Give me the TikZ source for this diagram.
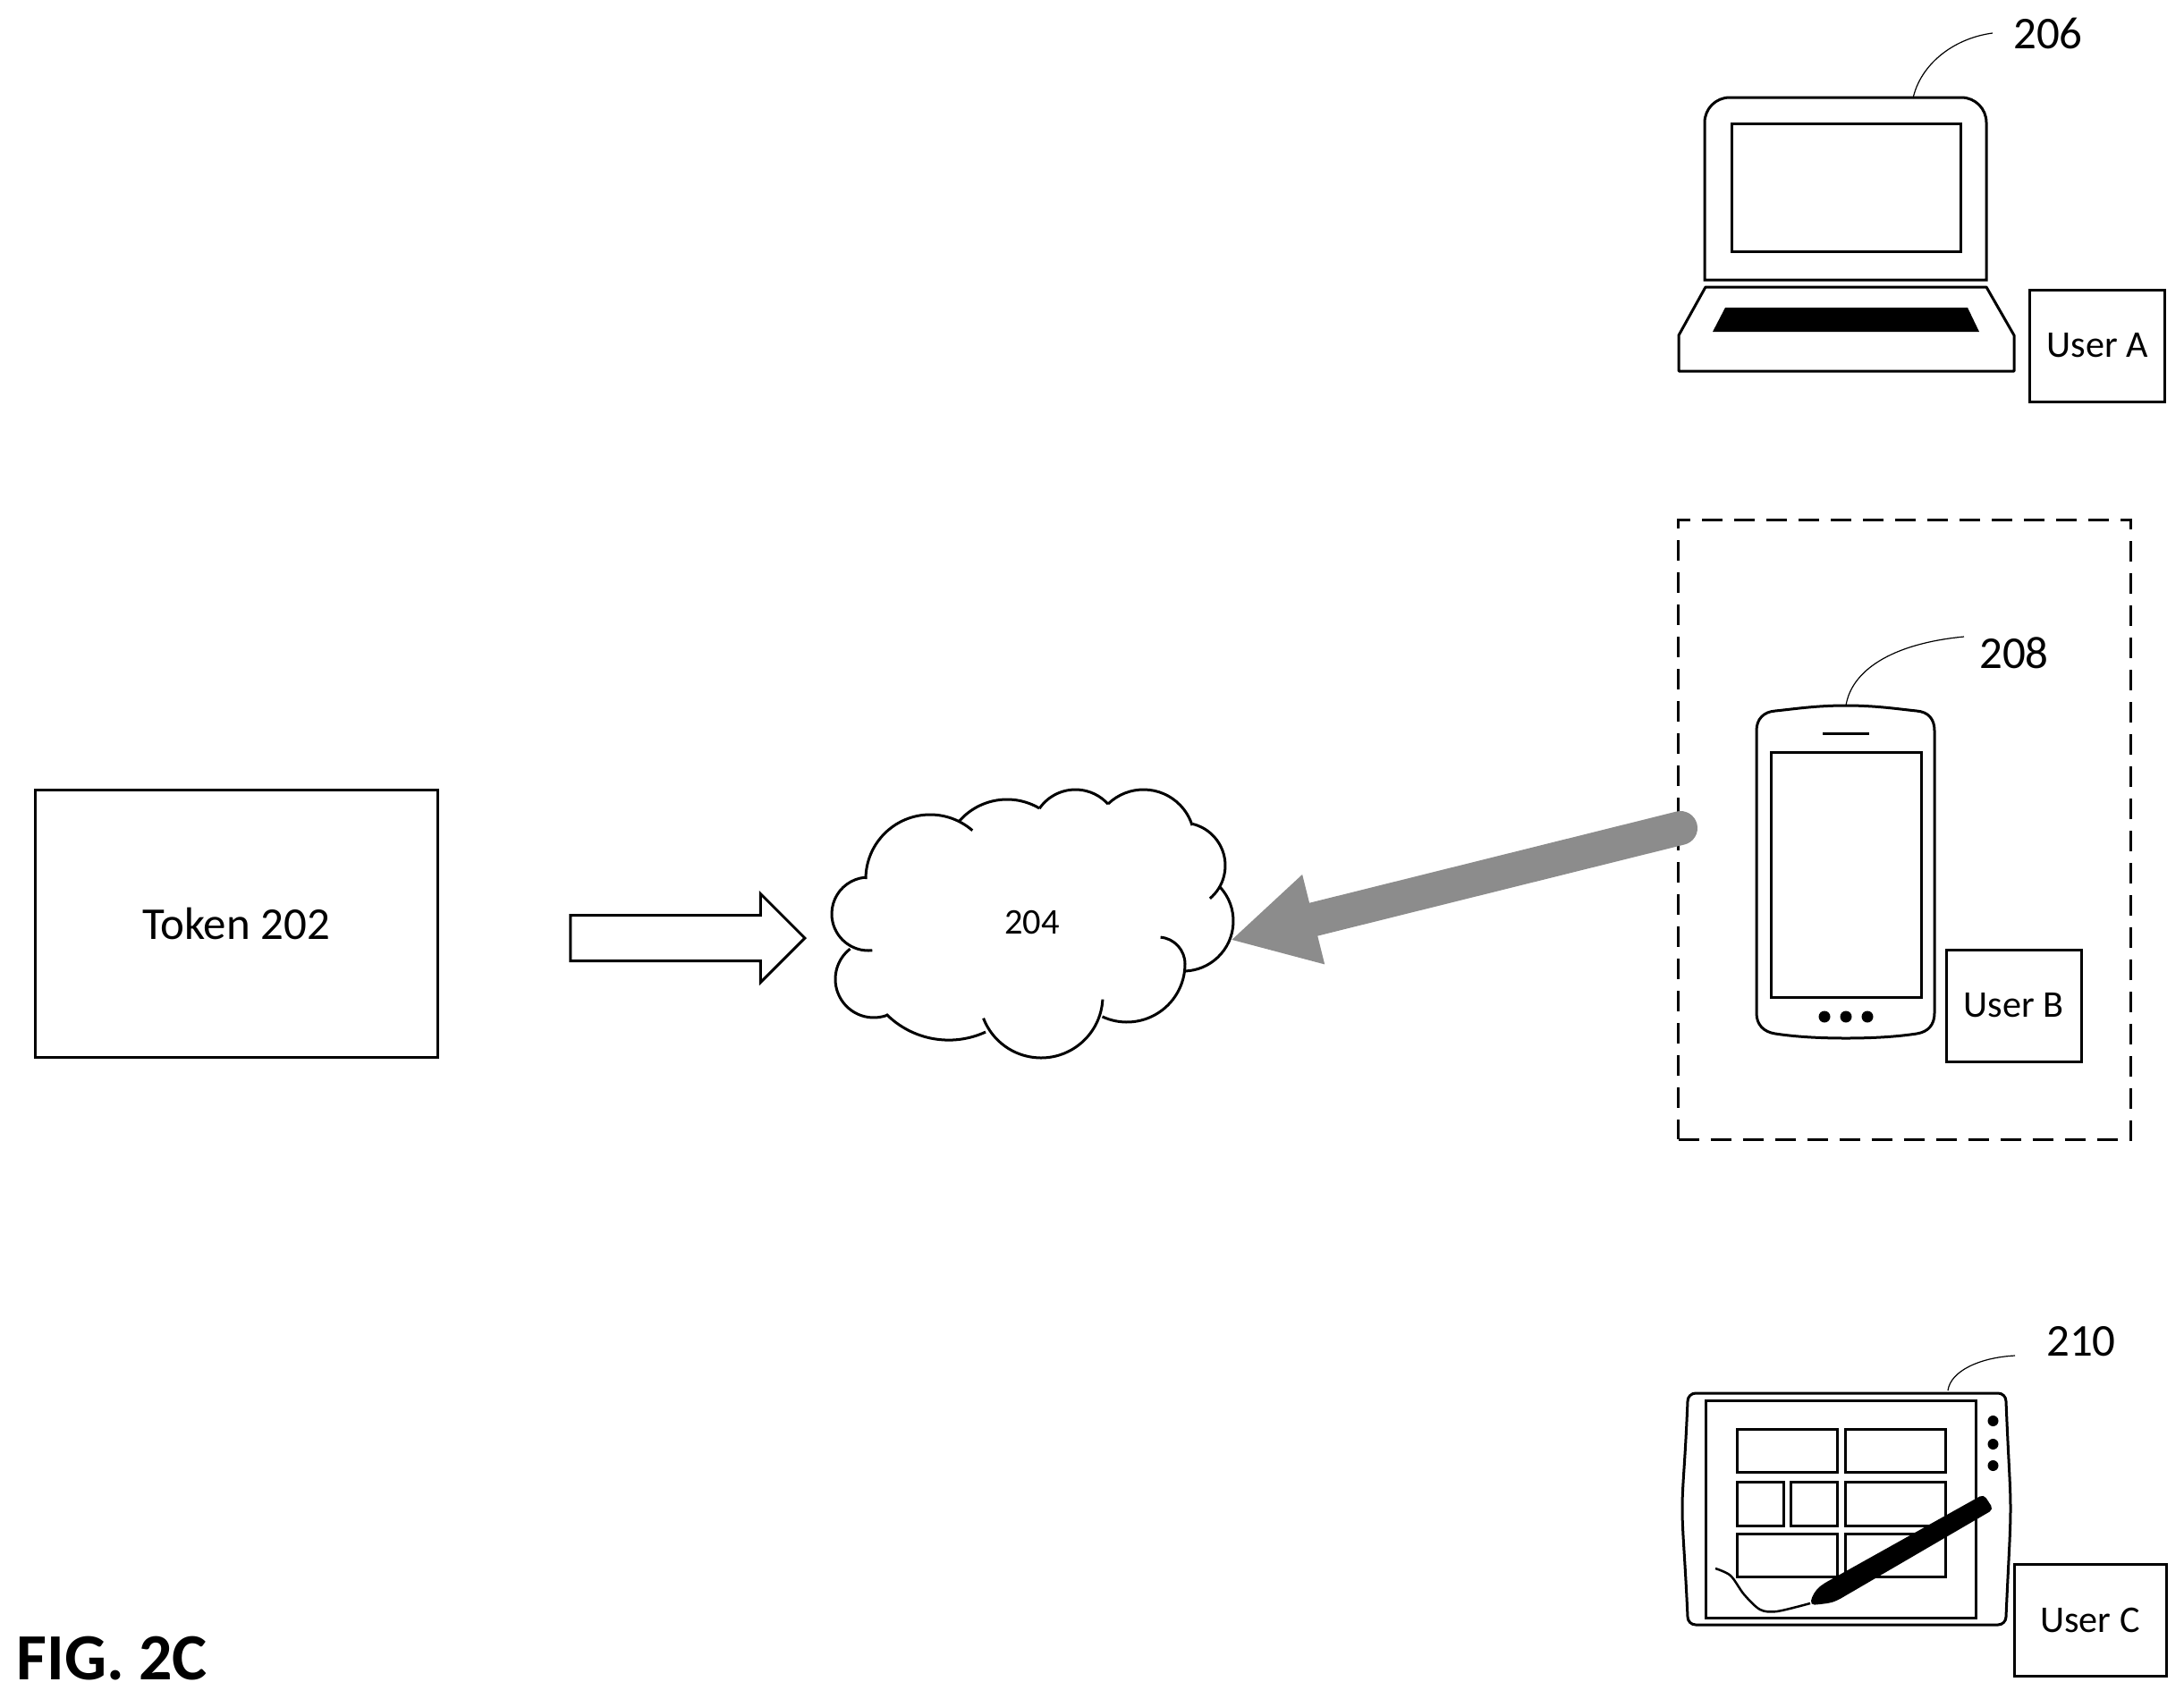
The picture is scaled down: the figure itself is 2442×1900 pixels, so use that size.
\documentclass[tikz,border=0pt]{standalone}
\usepackage{fontspec}
\setmainfont{Carlito}
\usepackage{xcolor}
\usepackage{tikz}
\usetikzlibrary{arrows.meta,shapes.arrows}

\definecolor{dithergray}{gray}{0.55}
\newcommand{\cloudlobe}[5]{\draw ([shift={(#3:#5)}]#1,#2) arc[start angle=#3,end angle=#4,radius=#5];}

\begin{document}
\begin{tikzpicture}[x=0.1mm,y=-0.1mm,line width=0.3mm,
    box/.style={draw,rectangle,inner sep=0pt,font=\fontsize{12}{14}\selectfont},
    leader/.style={line width=0.12mm},
    refnum/.style={font=\fontsize{14.5}{16}\selectfont,inner sep=0pt},
    bigflow/.style={draw=dithergray,line width=3.8mm,line cap=round,-{Triangle[length=9.6mm,width=9.6mm]}}]
    \useasboundingbox (0,0) rectangle (2442,1900);

    \node[box,font=\fontsize{14.5}{18}\selectfont,minimum width=45mm,minimum height=29.9mm] (token) at (264,1032.5) {Token 202};
    \node[draw,single arrow,anchor=tip,inner xsep=0pt,inner ysep=2.4mm,minimum height=26.2mm,minimum width=9.7mm,single arrow head extend=2.4mm] (inflow) at (902,1049) {};

    % cloud
    \node[inner sep=0pt,minimum width=44mm,minimum height=30mm,font=\fontsize{11.5}{14}\selectfont] (cloud) at (1154,1032) {204};
    \cloudlobe{1040}{983}{180}{311}{72}
    \cloudlobe{1126}{965}{221.6}{300.5}{71}
    \cloudlobe{1202.5}{932}{214.7}{318}{49}
    \cloudlobe{1278.6}{940}{226}{342.7}{57}
    \cloudlobe{1322}{968}{284}{410}{48}
    \cloudlobe{1323}{1030}{317}{448}{56}
    \cloudlobe{1295}{1078}{275}{360}{30}
    \cloudlobe{1260}{1078}{0}{115}{65}
    \cloudlobe{1164}{1114}{3}{159}{69}
    \cloudlobe{1060.8}{1064.5}{65.3}{135.1}{98.6}
    \cloudlobe{977}{1095}{70}{232}{43}
    \cloudlobe{971}{1022}{84}{265}{41}

    % laptop
    \draw (1906,313) [rounded corners=2.8mm] -- (1906,109) -- (2221,109) [sharp corners] -- (2221,313) -- cycle;
    \draw (1936,138) rectangle (2192,281);
    \draw[line join=round] (1907,321) -- (2221,321) -- (2252,375) -- (2252,415) -- (1877,415) -- (1877,375) -- cycle;
    \fill (1929,344) -- (2200,344) -- (2213,371) -- (1915,371) -- cycle;
    \node[box,minimum width=15.1mm,minimum height=12.5mm] (usera) at (2345,386.5) {User A};
    \node[refnum] (num206) at (2290,37) {206};
    \coordinate (lead206) at (2228,37);
    \coordinate (lid206) at (2139,110);
    \draw[leader] (lid206) .. controls (2147,73) and (2183,43) .. (lead206);

    % phone in dashed frame
    \node[draw,dashed,dash pattern=on 2.3mm off 1.3mm,inner sep=0pt,minimum width=50.6mm,minimum height=69.3mm] (frame) at (2129.5,927.5) {};
    \draw (2064,789) .. controls (2030,789) and (2005,793) .. (1985,795) .. controls (1972,796) and (1964,804) .. (1964,817)
        -- (1964,1133) .. controls (1964,1146) and (1972,1154) .. (1985,1156) .. controls (2005,1159) and (2030,1161) .. (2064,1161)
        .. controls (2098,1161) and (2123,1159) .. (2143,1156) .. controls (2156,1154) and (2163,1146) .. (2163,1133)
        -- (2163,817) .. controls (2163,804) and (2156,796) .. (2143,795) .. controls (2123,793) and (2098,789) .. (2064,789) -- cycle;
    \draw (2038,820) -- (2090,820);
    \draw (1980,841) rectangle (2148,1115);
    \foreach \x in {2040,2064,2088}
        \fill (\x,1137) circle (0.65mm);
    \node[box,minimum width=15.1mm,minimum height=12.5mm] (userb) at (2251.5,1124.5) {User B};
    \node[refnum] (num208) at (2252,730) {208};
    \coordinate (lead208) at (2196,712);
    \coordinate (top208) at (2064,789);
    \draw[leader] (top208) .. controls (2070,751) and (2113,720) .. (lead208);
    \coordinate (bstart) at (1879,926);
    \draw[bigflow] (bstart) -- (cloud.-5);

    % tablet with pen
    \draw (1896,1558) -- (2234,1558) .. controls (2239,1558) and (2243,1562) .. (2243,1567)
        .. controls (2246,1640) and (2248,1660) .. (2248,1687) .. controls (2248,1714) and (2246,1740) .. (2243,1808)
        .. controls (2243,1813) and (2239,1817) .. (2234,1817) -- (1896,1817) .. controls (1891,1817) and (1887,1813) .. (1887,1808)
        .. controls (1884,1740) and (1881,1714) .. (1881,1687) .. controls (1881,1660) and (1884,1640) .. (1887,1567)
        .. controls (1887,1562) and (1891,1558) .. (1896,1558) -- cycle;
    \draw (1907,1566) rectangle (2209.5,1809);
    \foreach \xa/\ya/\xb/\yb in {1942/1598/2054/1646,2063/1598/2175/1646,1942/1657/1994/1706,2002/1657/2054/1706,
        2063/1657/2175/1706,1942/1715/2054/1763,2063/1715/2175/1763}
        \draw (\xa,\ya) rectangle (\xb,\yb);
    \foreach \y in {1589,1615,1639}
        \fill (2228.5,\y) circle (0.6mm);
    \fill[rounded corners=0.5mm] (2218,1671) -- (2229,1688) -- (2054,1790) .. controls (2045,1793) and (2036,1794) .. (2024,1795)
        .. controls (2026,1785) and (2030,1778) .. (2039,1771) -- cycle;
    \draw[line width=0.25mm] plot[smooth] coordinates {(1918,1754) (1935,1762) (1950,1783) (1968,1800) (1987,1802) (2024,1793)};
    \node[box,minimum width=17mm,minimum height=12.5mm] (userc) at (2337,1811.5) {User C};
    \node[refnum] (num210) at (2327,1500) {210};
    \coordinate (lead210) at (2253,1516);
    \coordinate (top210) at (2178,1555);
    \draw[leader] (top210) .. controls (2181,1533) and (2214,1518) .. (lead210);

    \node[inner sep=0pt,anchor=base west,font=\bfseries\fontsize{21}{24}\selectfont] (figlabel) at (17,1878) {FIG. 2C};
\end{tikzpicture}
\end{document}
